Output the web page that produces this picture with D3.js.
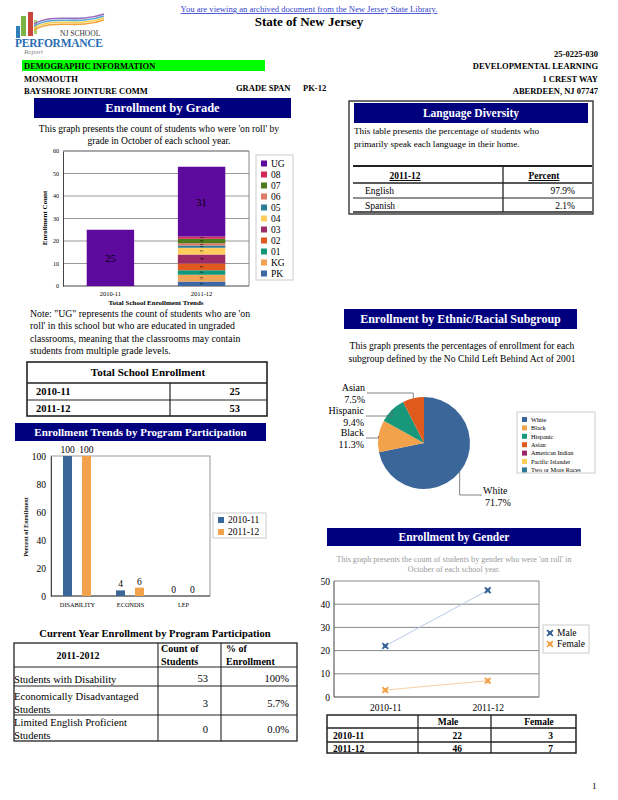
<!DOCTYPE html>
<html>
<head>
<meta charset="utf-8">
<script src="https://cdn.jsdelivr.net/npm/d3@7"></script>
<style>
  body { margin: 0; background: #fff; }
  svg { display: block; }
  text { font-family: "Liberation Serif", "Times New Roman", serif; }
</style>
</head>
<body>
<div id="page"></div>
<script>
// ---- data ----
const gradeYears = ["2010-11", "2011-12"];
const gradeKeys = ["PK", "KG", "01", "02", "03", "04", "05", "06", "07", "08", "UG"];
const grades1011 = [0, 0, 0, 0, 0, 0, 0, 0, 0, 0, 25];
const grades1112 = [2, 3, 2, 3, 4, 3, 1, 1, 2, 1, 31];
const gradeColors = ["#3d68a3", "#f2a253", "#12977a", "#e05a20", "#9c2c68", "#ffcc5e",
                     "#2e7d98", "#e07a68", "#4d7c1c", "#d3275a", "#5f0a9e"];

const totalYears = ["2010-11", "2011-12"];
const totalEnrollment = [25, 53];

const programCategories = ["DISABILITY", "ECONDIS", "LEP"];
const programYears = ["2010-11", "2011-12"];
const program1011 = [100, 4, 0];
const program1112 = [100, 6, 0];
const programColors = ["#3b6699", "#f2a24b"];

const participationRows = [["Students with Disability"], ["Economically Disadvantaged", "Students"], ["Limited English Proficient", "Students"]];
const participationCounts = ["53", "3", "0"];
const participationPct = ["100%", "5.7%", "0.0%"];

const languages = ["English", "Spanish"];
const languagePct = ["97.9%", "2.1%"];

const ethnicGroups = ["White", "Black", "Hispanic", "Asian", "American Indian", "Pacific Islander", "Two or More Races"];
const ethnicPct = [71.7, 11.3, 9.4, 7.5, 0, 0, 0];
const ethnicColors = ["#3b6699", "#f2a24b", "#18977a", "#e05a1e", "#9e2469", "#ffcc55", "#2e7a95"];

const genderYears = ["2010-11", "2011-12"];
const maleCounts = [22, 46];
const femaleCounts = [3, 7];
const genderColors = ["#3b6699", "#f2a24b"];
const genderLineColors = ["#b7c9e6", "#f8cfa4"];

// ---- helpers ----
const NAVY = "#00007f";
const svg = d3.select("#page").append("svg").attr("width", 618).attr("height", 800);

function txt(x, y, s, o = {}) {
  const t = svg.append("text").attr("x", x).attr("y", y).text(s)
    .attr("font-size", o.size || 10).attr("fill", o.fill || "#000");
  if (o.bold) t.attr("font-weight", "bold");
  if (o.anchor) t.attr("text-anchor", o.anchor);
  if (o.family) t.attr("font-family", o.family);
  if (o.underline) t.attr("text-decoration", "underline");
  if (o.italic) t.attr("font-style", "italic");
  return t;
}
function titleBar(x, y, w, h, label, size) {
  svg.append("rect").attr("x", x).attr("y", y).attr("width", w).attr("height", h).attr("fill", NAVY);
  txt(x + w / 2, y + h / 2 + size * 0.35, label, { size: size, bold: true, fill: "#fff", anchor: "middle" });
}
function hline(x1, x2, y, w = 1, c = "#222") {
  svg.append("line").attr("x1", x1).attr("x2", x2).attr("y1", y).attr("y2", y).attr("stroke", c).attr("stroke-width", w);
}
function vline(x, y1, y2, w = 1, c = "#222") {
  svg.append("line").attr("x1", x).attr("x2", x).attr("y1", y1).attr("y2", y2).attr("stroke", c).attr("stroke-width", w);
}
function box(x, y, w, h, sw = 1, c = "#222") {
  svg.append("rect").attr("x", x).attr("y", y).attr("width", w).attr("height", h)
    .attr("fill", "none").attr("stroke", c).attr("stroke-width", sw);
}

// ---- page header ----
txt(309, 12, "You are viewing an archived document from the New Jersey State Library.",
  { size: 8.6, fill: "#3344cc", anchor: "middle", family: "Liberation Sans, Arial, sans-serif", underline: true });
txt(309, 26, "State of New Jersey", { size: 13, bold: true, anchor: "middle" });

// logo
const logo = svg.append("g");
[["#2d7fb8", 16, 26, 4, 12], ["#7bb342", 21, 16, 5, 20], ["#c9473a", 28, 12, 5, 24], ["#a8cf6a", 34, 20, 3, 14]]
  .forEach(([c, x, y, w, h]) => logo.append("rect").attr("x", x).attr("y", y).attr("width", w).attr("height", h).attr("fill", c));
["#f2a23a", "#f6d04d", "#5aa7d8", "#9b6cc0"].forEach((c, i) => {
  logo.append("path").attr("d", `M34,${30 - i * 2} C55,${18 - i * 2} 75,${30 - i * 2} 104,${20 - i * 2}`)
    .attr("fill", "none").attr("stroke", c).attr("stroke-width", 1.6);
});
txt(60, 36, "NJ SCHOOL", { size: 7.5, family: "Liberation Sans, Arial, sans-serif", fill: "#333" });
txt(15, 47, "PERFORMANCE", { size: 11.5, bold: true, family: "Liberation Sans, Arial, sans-serif", fill: "#2a6db5" })
  .attr("textLength", 88);
txt(24, 54, "Report", { size: 7, italic: true, fill: "#888" });

svg.append("rect").attr("x", 22).attr("y", 60).attr("width", 243).attr("height", 11).attr("fill", "#00ff00");
txt(24, 69, "DEMOGRAPHIC INFORMATION", { size: 8.5, bold: true });
txt(24, 82, "MONMOUTH", { size: 8.5, bold: true });
txt(24, 94, "BAYSHORE JOINTURE COMM", { size: 8.5, bold: true });
txt(236, 91, "GRADE SPAN", { size: 8.5, bold: true });
txt(303, 91, "PK-12", { size: 8.5, bold: true });
txt(598, 57, "25-0225-030", { size: 8.5, bold: true, anchor: "end" });
txt(598, 69, "DEVELOPMENTAL LEARNING", { size: 8.5, bold: true, anchor: "end" });
txt(598, 82, "1 CREST WAY", { size: 8.5, bold: true, anchor: "end" });
txt(598, 94, "ABERDEEN, NJ 07747", { size: 8.5, bold: true, anchor: "end" });

// ---- Enrollment by Grade ----
titleBar(34, 98, 257, 20, "Enrollment by Grade", 12.5);
txt(159, 132, "This graph presents the count of students who were 'on roll' by", { size: 9.6, anchor: "middle" });
txt(159, 144, "grade in October of each school year.", { size: 9.6, anchor: "middle" });

const gX = d3.scaleBand().domain(gradeYears).range([63, 249]).paddingInner(0.48).paddingOuter(0.26);
const gY = d3.scaleLinear().domain([0, 60]).range([286, 151]);
const gRows = gradeYears.map((yr, i) => {
  const vals = i === 0 ? grades1011 : grades1112;
  const o = { year: yr };
  gradeKeys.forEach((k, j) => o[k] = vals[j]);
  return o;
});
const gStack = d3.stack().keys(gradeKeys)(gRows);
const gColor = d3.scaleOrdinal().domain(gradeKeys).range(gradeColors);

gY.ticks(6).forEach(t => hline(63, 249, gY(t), 1, t === 0 ? "#444" : "#999"));
svg.append("g").attr("transform", "translate(63,0)")
  .call(d3.axisLeft(gY).ticks(6).tickSize(0).tickPadding(4))
  .call(g => g.select(".domain").attr("stroke", "#444"))
  .call(g => g.selectAll("text").attr("font-size", 6).attr("font-family", "Liberation Serif, serif"));
svg.append("line").attr("x1", 63).attr("x2", 249).attr("y1", 151).attr("y2", 151).attr("stroke", "#888");
svg.append("line").attr("x1", 249).attr("x2", 249).attr("y1", 151).attr("y2", 286).attr("stroke", "#888");

gStack.forEach(layer => {
  svg.append("g").selectAll("rect").data(layer.filter(d => d[1] > d[0])).join("rect")
    .attr("x", d => gX(d.data.year)).attr("width", gX.bandwidth())
    .attr("y", d => gY(d[1])).attr("height", d => gY(d[0]) - gY(d[1]))
    .attr("fill", gColor(layer.key));
});
// segment value labels
gStack.forEach(layer => {
  layer.filter(d => d[1] > d[0]).forEach(d => {
    const cx = gX(d.data.year) + gX.bandwidth() / 2;
    const cy = (gY(d[0]) + gY(d[1])) / 2;
    const v = d[1] - d[0];
    if (layer.key === "UG") {
      txt(cx, cy + 4, v, { size: 10.5, anchor: "middle" });
    } else {
      txt(cx, cy, v, { size: 5, anchor: "middle" }).attr("transform", `rotate(-90,${cx},${cy})`).attr("dy", 1.8);
    }
  });
});
svg.append("g").attr("transform", "translate(0,286)")
  .call(d3.axisBottom(gX).tickSize(0).tickPadding(5))
  .call(g => g.select(".domain").remove())
  .call(g => g.selectAll("text").attr("font-size", 6.5).attr("font-family", "Liberation Serif, serif"));
txt(156, 305, "Total School Enrollment Trends", { size: 7, bold: true, anchor: "middle" });
txt(0, 0, "Enrollment Count", { size: 7, bold: true, anchor: "middle" })
  .attr("transform", "translate(47,218) rotate(-90)");

// legend
box(256, 155, 37, 125, 1, "#ccc");
gradeKeys.slice().reverse().forEach((k, i) => {
  const y = 164 + i * 11;
  svg.append("rect").attr("x", 261).attr("y", y - 3.5).attr("width", 6).attr("height", 6).attr("fill", gColor(k));
  txt(271, y + 3, k, { size: 9.5 });
});

// note
["Note: \"UG\" represents the count of students who are 'on",
 "roll' in this school but who are educated in ungraded",
 "classrooms, meaning that the classrooms may contain",
 "students from multiple grade levels."].forEach((s, i) => txt(30, 317 + i * 12.3, s, { size: 9.8 }));

// total school enrollment table
box(27, 362, 240, 54, 1.6);
hline(27, 267, 383, 1.6);
hline(27, 267, 400, 1.2);
vline(170, 383, 416, 1.2);
txt(148, 376, "Total School Enrollment", { size: 11, bold: true, anchor: "middle" });
totalYears.forEach((yr, i) => {
  txt(36, 395 + i * 17, yr, { size: 10.5, bold: true });
  txt(240, 395 + i * 17, totalEnrollment[i], { size: 10.5, bold: true, anchor: "end" });
});

// ---- Enrollment Trends by Program Participation ----
titleBar(15, 423, 251, 18, "Enrollment Trends by Program Participation", 11);
const pX0 = d3.scaleBand().domain(programCategories).range([51, 210]);
const pX1 = d3.scaleBand().domain(programYears).range([12, 40]).paddingInner(0.526);
const pY = d3.scaleLinear().domain([0, 100]).range([596, 456]);
box(51, 456, 159, 140, 1, "#999");
svg.append("g").attr("transform", "translate(51,0)")
  .call(d3.axisLeft(pY).ticks(5).tickSize(0).tickPadding(5))
  .call(g => g.select(".domain").attr("stroke", "#444"))
  .call(g => g.selectAll("text").attr("font-size", 9.5).attr("font-family", "Liberation Serif, serif"));
hline(51, 210, 596, 1, "#444");
const pRows = programCategories.map((c, i) => ({ cat: c, vals: [program1011[i], program1112[i]] }));
pRows.forEach(r => {
  r.vals.forEach((v, j) => {
    const x = pX0(r.cat) + pX1(programYears[j]);
    svg.append("rect").attr("x", x).attr("width", pX1.bandwidth())
      .attr("y", pY(v)).attr("height", pY(0) - pY(v)).attr("fill", programColors[j]);
    txt(x + pX1.bandwidth() / 2, pY(v) - 3, v, { size: 9.5, anchor: "middle" });
  });
});
svg.append("g").attr("transform", "translate(0,596)")
  .call(d3.axisBottom(pX0).tickSize(0).tickPadding(7))
  .call(g => g.select(".domain").remove())
  .call(g => g.selectAll("text").attr("font-size", 6.3).attr("font-family", "Liberation Serif, serif"));
txt(0, 0, "Percent of Enrollment", { size: 6.3, bold: true, anchor: "middle" })
  .attr("transform", "translate(28,527) rotate(-90)");
box(213, 513, 53, 25, 1, "#ccc");
programYears.forEach((yr, i) => {
  svg.append("rect").attr("x", 218).attr("y", 517 + i * 12).attr("width", 6).attr("height", 6).attr("fill", programColors[i]);
  txt(228, 523 + i * 12, yr, { size: 9.5 });
});

// ---- Current Year Enrollment by Program Participation ----
txt(155, 637, "Current Year Enrollment by Program Participation", { size: 10.5, bold: true, anchor: "middle" });
const rowTops = [643, 667, 686, 715, 741];
box(14, 643, 283, 98, 1.3);
rowTops.slice(1, 4).forEach(y => hline(14, 297, y, 1.1));
vline(158, 643, 741, 1.1);
vline(221, 643, 741, 1.1);
txt(78, 659, "2011-2012", { size: 10, bold: true, anchor: "middle" });
txt(161, 652, "Count of", { size: 10, bold: true });
txt(161, 665, "Students", { size: 10, bold: true });
txt(226, 652, "% of", { size: 10, bold: true });
txt(226, 665, "Enrollment", { size: 10, bold: true });
participationRows.forEach((lines, i) => {
  const bot = rowTops[i + 2];
  if (lines.length === 1) {
    txt(14, bot - 3, lines[0], { size: 10.6 });
  } else {
    txt(14, bot - 15, lines[0], { size: 10.6 });
    txt(14, bot - 2.5, lines[1], { size: 10.6 });
  }
  const vy = lines.length === 1 ? bot - 4 : bot - 8;
  txt(208, vy, participationCounts[i], { size: 10.5, anchor: "end" });
  txt(289, vy, participationPct[i], { size: 10.5, anchor: "end" });
});

// ---- Language Diversity ----
box(349, 101, 244, 113, 1.3);
titleBar(354, 103, 234, 20, "Language Diversity", 11.5);
txt(354, 134, "This table presents the percentage of students who", { size: 9.2 });
txt(354, 147, "primarily speak each language in their home.", { size: 9.2 });
hline(353, 592, 166, 1.8);
hline(353, 592, 183, 1.4);
hline(353, 592, 198, 1);
hline(353, 592, 212, 1.4);
vline(503, 166, 212, 1.3);
txt(405, 179, "2011-12", { size: 9.5, bold: true, anchor: "middle", underline: true });
txt(544, 179, "Percent", { size: 9.5, bold: true, anchor: "middle", underline: true });
languages.forEach((l, i) => {
  txt(365, 194 + i * 15, l, { size: 9.5 });
  txt(575, 194 + i * 15, languagePct[i], { size: 9.5, anchor: "end" });
});

// ---- Enrollment by Ethnic/Racial Subgroup ----
titleBar(344, 309, 233, 20, "Enrollment by Ethnic/Racial Subgroup", 12);
txt(462, 349, "This graph presents the percentages of enrollment for each", { size: 9.6, anchor: "middle" });
txt(462, 362, "subgroup defined by the No Child Left Behind Act of 2001", { size: 9.6, anchor: "middle" });

const pieC = [424, 443], pieR = 46;
const pieData = d3.pie().sort(null).value(d => d.v)(ethnicGroups.map((g, i) => ({ g, v: ethnicPct[i], c: ethnicColors[i] })).filter(d => d.v > 0));
const arc = d3.arc().innerRadius(0).outerRadius(pieR);
const pieG = svg.append("g").attr("transform", `translate(${pieC[0]},${pieC[1]})`);
pieG.selectAll("path").data(pieData).join("path").attr("d", arc).attr("fill", d => d.data.c);
// labels with elbow leaders
const labelLayout = { White: { y: 495, x: 482, side: 1 }, Black: { y: 438, x: 366, side: -1 },
                      Hispanic: { y: 416, x: 366, side: -1 }, Asian: { y: 393, x: 367, side: -1 } };
pieData.forEach(d => {
  const L = labelLayout[d.data.g];
  const a = (d.startAngle + d.endAngle) / 2;
  const ex = pieC[0] + Math.sin(a) * pieR, ey = pieC[1] - Math.cos(a) * pieR;
  svg.append("path").attr("d", `M${ex},${ey} L${ex},${L.y} L${L.x},${L.y}`)
    .attr("fill", "none").attr("stroke", "#666").attr("stroke-width", 0.8);
  const pct = d.data.v.toFixed(1) + "%";
  if (L.side > 0) {
    txt(L.x + 1, L.y - 1, d.data.g, { size: 10 });
    txt(L.x + 3, L.y + 11, pct, { size: 10 });
  } else {
    txt(L.x - 2, L.y - 2, d.data.g, { size: 10, anchor: "end" });
    txt(L.x - 2, L.y + 10, pct, { size: 10, anchor: "end" });
  }
});
box(517, 412, 78, 61, 1, "#ccc");
ethnicGroups.forEach((g, i) => {
  const y = 419.5 + i * 8.4;
  svg.append("rect").attr("x", 522).attr("y", y - 2.5).attr("width", 5).attr("height", 5).attr("fill", ethnicColors[i]);
  txt(531, y + 2.3, g, { size: 6.3 });
});

// ---- Enrollment by Gender ----
titleBar(327, 528, 254, 18, "Enrollment by Gender", 11.5);
txt(454, 562, "This graph presents the count of students by gender who were 'on roll' in", { size: 8.1, anchor: "middle", fill: "#999" });
txt(454, 572, "October of each school year.", { size: 8.1, anchor: "middle", fill: "#999" });
const sX = d3.scalePoint().domain(genderYears).range([334, 539]).padding(0.5);
const sY = d3.scaleLinear().domain([0, 50]).range([697, 581]);
sY.ticks(5).forEach(t => hline(334, 539, sY(t), 1, t === 0 ? "#444" : "#888"));
vline(334, 581, 697, 1, "#444");
vline(539, 581, 697, 1, "#888");
svg.append("g").attr("transform", "translate(334,0)")
  .call(d3.axisLeft(sY).ticks(5).tickSize(0).tickPadding(4))
  .call(g => g.select(".domain").remove())
  .call(g => g.selectAll("text").attr("font-size", 9.5).attr("font-family", "Liberation Serif, serif"));
svg.append("g").attr("transform", "translate(0,697)")
  .call(d3.axisBottom(sX).tickSize(0).tickPadding(7))
  .call(g => g.select(".domain").remove())
  .call(g => g.selectAll("text").attr("font-size", 9.5).attr("font-family", "Liberation Serif, serif"));
const xMark = d3.symbol().type(d3.symbolX).size(24);
function marker(x, y, c) {
  svg.append("path").attr("d", xMark()).attr("transform", `translate(${x},${y})`)
    .attr("fill", "none").attr("stroke", c).attr("stroke-width", 1.8);
  svg.append("rect").attr("x", x - 2).attr("y", y - 2).attr("width", 4).attr("height", 4).attr("fill", c);
}
[maleCounts, femaleCounts].forEach((vals, k) => {
  const line = d3.line().x((d, i) => sX(genderYears[i])).y(d => sY(d));
  svg.append("path").attr("d", line(vals)).attr("fill", "none").attr("stroke", genderLineColors[k]).attr("stroke-width", 1);
  vals.forEach((v, i) => marker(sX(genderYears[i]), sY(v), genderColors[k]));
});
box(543, 625, 46, 28, 1, "#ccc");
["Male", "Female"].forEach((s, i) => {
  marker(550, 633 + i * 11, genderColors[i]);
  txt(557, 636 + i * 11, s, { size: 9.5 });
});
// gender table
box(327, 715, 249, 38, 1.5);
hline(327, 576, 728, 1.3);
hline(327, 576, 742, 1.3);
vline(418, 715, 753, 1.3);
vline(491, 715, 753, 1.3);
txt(448, 725, "Male", { size: 9.5, bold: true, anchor: "middle" });
txt(539, 725, "Female", { size: 9.5, bold: true, anchor: "middle" });
genderYears.forEach((yr, i) => {
  txt(333, 739 + i * 13, yr, { size: 9.5, bold: true });
  txt(462, 739 + i * 13, maleCounts[i], { size: 9.5, bold: true, anchor: "end" });
  txt(553, 739 + i * 13, femaleCounts[i], { size: 9.5, bold: true, anchor: "end" });
});

txt(592, 789, "1", { size: 9 });
</script>
</body>
</html>
